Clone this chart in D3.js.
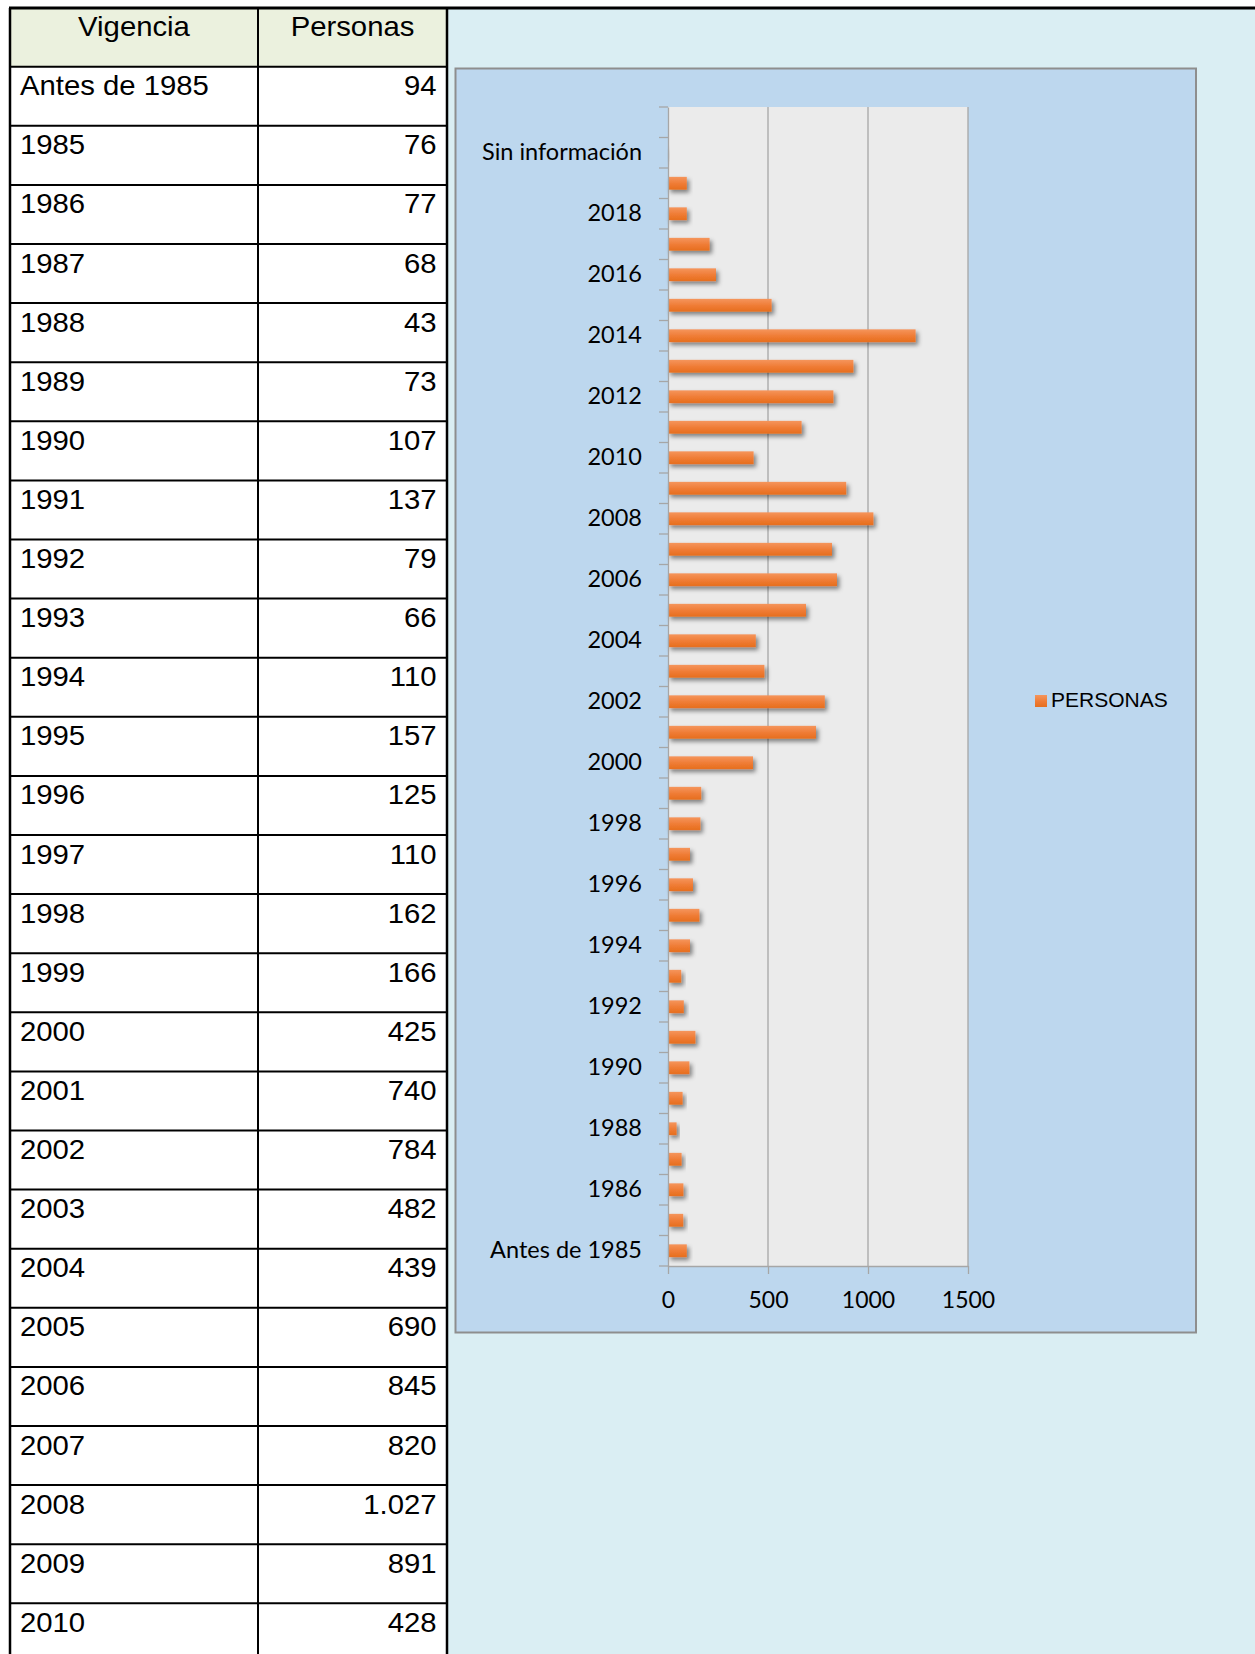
<!DOCTYPE html>
<html>
<head>
<meta charset="utf-8">
<script src="https://cdn.jsdelivr.net/npm/d3@7"></script>
<style>
  body { margin: 0; background: #fff; }
  svg { display: block; }
</style>
</head>
<body>
<div id="chart"></div>
<script>
// Categories, bottom to top of the chart (last one is an empty slot at the top)
const categories = ["Antes de 1985", "1985", "1986", "1987", "1988", "1989", "1990",
  "1991", "1992", "1993", "1994", "1995", "1996", "1997", "1998", "1999", "2000",
  "2001", "2002", "2003", "2004", "2005", "2006", "2007", "2008", "2009", "2010",
  "2011", "2012", "2013", "2014", "2015", "2016", "2017", "2018", "2019",
  "Sin información", ""];

// Personas per category (2011 onwards)
const personas = [94, 76, 77, 68, 43, 73, 107,
  137, 79, 66, 110, 157, 125, 110, 162, 166, 425,
  740, 784, 482, 439, 690, 845, 820, 1027, 891, 428,
  668, 827, 927, 1238, 518, 240, 208, 94, 94,
  5, null];

// rows visible in the table on the left
const tableRows = 27;
const tableHeaders = ["Vigencia", "Personas"];
const xTicks = [0, 500, 1000, 1500];
const seriesName = "PERSONAS";

const width = 1255, height = 1654;

const svg = d3.select("#chart")
  .append("svg")
  .attr("width", width)
  .attr("height", height);

// gradient + shadow for the bars
const defs = svg.append("defs");
const grad = defs.append("linearGradient")
  .attr("id", "barGrad")
  .attr("x1", 0).attr("y1", 0).attr("x2", 0).attr("y2", 1);
grad.append("stop").attr("offset", "0%").attr("stop-color", "#F5955C");
grad.append("stop").attr("offset", "55%").attr("stop-color", "#EF7B34");
grad.append("stop").attr("offset", "100%").attr("stop-color", "#E66E1E");

const shadow = defs.append("filter")
  .attr("id", "shadow")
  .attr("x", "-20%").attr("y", "-50%")
  .attr("width", "150%").attr("height", "250%");
shadow.append("feDropShadow")
  .attr("dx", 2.5).attr("dy", 3)
  .attr("stdDeviation", 2)
  .attr("flood-color", "#000")
  .attr("flood-opacity", 0.45);

// ---- page background (right side)
const tbl = { left: 10, top: 8, headH: 58.7, rowH: 59.1, col: 258, right: 447 };
const cellFont = "'Liberation Sans', Arial, sans-serif";
const stretch = 1.085; // the sheet text is a little wide

svg.append("rect")
  .attr("x", tbl.right).attr("y", tbl.top)
  .attr("width", width - tbl.right).attr("height", height - tbl.top)
  .attr("fill", "#DAEEF3");

// ---- table
const table = svg.append("g").attr("class", "table");

table.append("rect")
  .attr("x", tbl.left).attr("y", tbl.top)
  .attr("width", tbl.right - tbl.left).attr("height", tbl.headH)
  .attr("fill", "#EBF1DE");

table.append("rect")
  .attr("x", tbl.left).attr("y", tbl.top + tbl.headH)
  .attr("width", tbl.right - tbl.left).attr("height", height - tbl.top - tbl.headH)
  .attr("fill", "#fff");

// header texts
table.selectAll("text.head")
  .data(tableHeaders)
  .join("text")
    .attr("class", "head")
    .attr("transform", (d, i) => {
      const cx = i === 0 ? (tbl.left + tbl.col) / 2 : (tbl.col + tbl.right) / 2;
      return `translate(${cx},${tbl.top + 28}) scale(${stretch},1)`;
    })
    .attr("text-anchor", "middle")
    .style("font-family", cellFont)
    .style("font-size", "27px")
    .text(d => d);

const numFmt = d3.formatLocale({ decimal: ",", thousands: ".", grouping: [3], currency: ["$", ""] }).format(",d");

const rowData = categories.slice(0, tableRows).map((c, i) => ({ name: c, value: personas[i] }));

const rows = table.selectAll("g.row")
  .data(rowData)
  .join("g")
    .attr("class", "row")
    .attr("transform", (d, i) => `translate(0, ${tbl.top + tbl.headH + i * tbl.rowH})`);

rows.append("text")
  .attr("transform", `translate(${tbl.left + 10},28.5) scale(${stretch},1)`)
  .style("font-family", cellFont)
  .style("font-size", "27px")
  .text(d => d.name);

rows.append("text")
  .attr("transform", `translate(${tbl.right - 10.5},28.5) scale(${stretch},1)`)
  .attr("text-anchor", "end")
  .style("font-family", cellFont)
  .style("font-size", "27px")
  .text(d => numFmt(d.value));

// table grid
const hLines = d3.range(tableRows + 1).map(i => tbl.top + tbl.headH + i * tbl.rowH);
table.selectAll("line.h")
  .data(hLines)
  .join("line")
    .attr("x1", tbl.left).attr("x2", tbl.right)
    .attr("y1", d => d).attr("y2", d => d)
    .attr("stroke", "#000").attr("stroke-width", 2);

[tbl.left, tbl.col, tbl.right].forEach(xv => {
  table.append("line")
    .attr("x1", xv).attr("x2", xv)
    .attr("y1", tbl.top).attr("y2", height)
    .attr("stroke", "#000").attr("stroke-width", xv === tbl.col ? 2 : 2.5);
});

// top border across the page
svg.append("line")
  .attr("x1", tbl.left - 1).attr("x2", width)
  .attr("y1", tbl.top).attr("y2", tbl.top)
  .attr("stroke", "#000").attr("stroke-width", 3);

// ---- chart box
svg.append("rect")
  .attr("x", 455.5).attr("y", 68.5)
  .attr("width", 740.5).attr("height", 1264)
  .attr("fill", "#BDD7EE")
  .attr("stroke", "#8E8E8E")
  .attr("stroke-width", 2);

const plot = { left: 668, right: 968, top: 107, bottom: 1266 };

const x = d3.scaleLinear()
  .domain([0, 1500])
  .range([plot.left, plot.right]);

const y = d3.scaleBand()
  .domain(categories.slice().reverse())
  .range([plot.top, plot.bottom])
  .paddingInner(0.58)
  .paddingOuter(0.29);

svg.append("rect")
  .attr("x", plot.left).attr("y", plot.top)
  .attr("width", plot.right - plot.left).attr("height", plot.bottom - plot.top)
  .attr("fill", "#EBEBEB");

// vertical gridlines
svg.append("g")
  .selectAll("line")
  .data(xTicks.filter(d => d > 0))
  .join("line")
    .attr("x1", d => x(d)).attr("x2", d => x(d))
    .attr("y1", plot.top).attr("y2", plot.bottom)
    .attr("stroke", "#A6A6A6")
    .attr("stroke-width", 1.3);

// bars
svg.append("g")
  .selectAll("rect")
  .data(categories.map((c, i) => ({ name: c, value: personas[i] })).filter(d => d.value != null))
  .join("rect")
    .attr("x", x(0))
    .attr("y", d => y(d.name))
    .attr("width", d => x(d.value) - x(0))
    .attr("height", y.bandwidth())
    .attr("fill", "url(#barGrad)")
    .attr("filter", "url(#shadow)");

// y axis (labels every other category)
const yAxis = svg.append("g")
  .attr("transform", `translate(${plot.left},0)`)
  .call(d3.axisLeft(y)
    .tickValues(categories.filter((c, i) => i % 2 === 0 && c !== ""))
    .tickSize(0)
    .tickSizeOuter(0)
    .tickPadding(26));

yAxis.select(".domain").attr("stroke", "#A6A6A6").attr("stroke-width", 1.3);
yAxis.selectAll("text")
  .style("font-family", "Lato, 'Open Sans', sans-serif")
  .style("font-size", "23.5px")
  .attr("fill", "#000");

// tick marks at band boundaries
const gap = (y.step() - y.bandwidth()) / 2;
const bounds = categories.map(c => y(c) - gap).concat([plot.bottom]);
svg.append("g")
  .selectAll("line")
  .data(bounds)
  .join("line")
    .attr("x1", plot.left - 9).attr("x2", plot.left)
    .attr("y1", d => d).attr("y2", d => d)
    .attr("stroke", "#A6A6A6")
    .attr("stroke-width", 1.3);

// x axis
const xAxis = svg.append("g")
  .attr("transform", `translate(0,${plot.bottom})`)
  .call(d3.axisBottom(x)
    .tickValues(xTicks)
    .tickSize(8)
    .tickSizeOuter(0)
    .tickPadding(18)
    .tickFormat(d3.format("d")));

xAxis.select(".domain").attr("stroke", "#A6A6A6").attr("stroke-width", 1.3);
xAxis.selectAll(".tick line").attr("stroke", "#A6A6A6").attr("stroke-width", 1.3);
xAxis.selectAll("text")
  .style("font-family", "Lato, 'Open Sans', sans-serif")
  .style("font-size", "23px")
  .attr("fill", "#000");

// legend
const legend = svg.append("g").attr("transform", "translate(1035,695)");
legend.append("rect")
  .attr("width", 12).attr("height", 12)
  .attr("fill", "url(#barGrad)");
legend.append("text")
  .attr("x", 16)
  .attr("y", 12)
  .style("font-family", cellFont)
  .style("font-size", "21px")
  .text(seriesName);
</script>
</body>
</html>
